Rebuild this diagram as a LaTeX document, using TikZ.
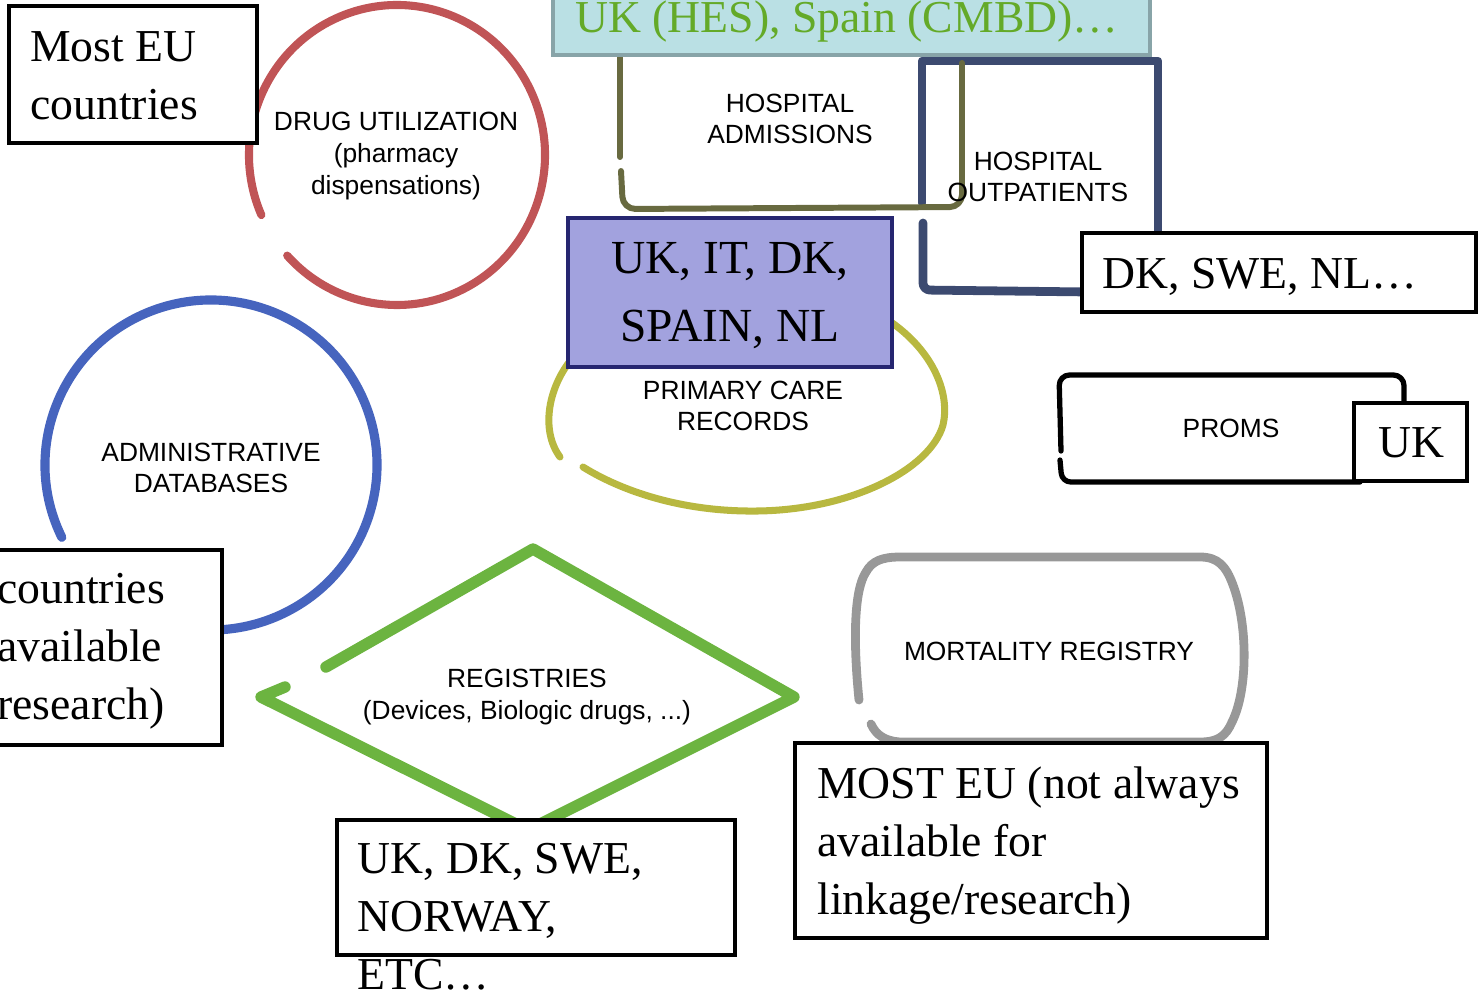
\documentclass[tikz,border=0pt]{standalone}
\usepackage{fontspec}
\setmainfont{Liberation Serif}
\setsansfont{Liberation Sans}
\usepackage{tikz}
\usetikzlibrary{calc}
\usepackage{xcolor}

\definecolor{drugred}{RGB}{192,84,86}
\definecolor{adminblue}{RGB}{70,100,190}
\definecolor{reggreen}{RGB}{108,180,64}
\definecolor{pcyellow}{RGB}{184,184,64}
\definecolor{hospolive}{RGB}{104,106,64}
\definecolor{outnavy}{RGB}{60,74,112}
\definecolor{mortgray}{RGB}{152,152,152}
\definecolor{hesfill}{RGB}{186,224,228}
\definecolor{hesdraw}{RGB}{136,164,168}
\definecolor{hestext}{RGB}{100,170,40}
\definecolor{pcfill}{RGB}{162,162,222}
\definecolor{pcdraw}{RGB}{38,38,112}

\begin{document}
\begin{tikzpicture}[x=0.02cm, y=-0.02cm,
    sketch/.style={line cap=round, line join=round},
    cbox/.style={draw=black, line width=2.8pt, fill=white},
    ctext/.style={font=\fontsize{26}{33}\selectfont, align=left, inner sep=0pt, anchor=north west},
    dtext/.style={font=\sffamily\fontsize{15}{18}\selectfont, align=center, inner sep=0pt}]
        \useasboundingbox (0,0) rectangle (1478,991);

        % Define Coordinates
        \coordinate (drugC) at (397,155);
        \coordinate (adminC) at (211,465);

        % Drug utilization (open red circle)
        \draw[sketch, drugred, line width=4.6pt] (drugC) ++(156.4:148 and 150)
            arc[start angle=156.4, end angle=497.9, x radius=148, y radius=150];
        \draw[cbox] (9,6) rectangle (257,143);

        % Administrative databases (open blue circle)
        \draw[sketch, adminblue, line width=5.2pt] (adminC) ++(154:166 and 165)
            arc[start angle=154, end angle=460, x radius=166, y radius=165];
        \draw[cbox] (-20,550) rectangle (222,745);

        % Registries (green diamond)
        \draw[sketch, reggreen, line width=6.5pt] (326,667) -- (533,549) -- (794,697)
            -- (528,830) -- (261,697) -- (285,687);
        \draw[cbox] (337,820) rectangle (735,955);

        % Primary care (yellow ellipse, hand drawn)
        \draw[sketch, pcyellow, line width=4pt] (560,457) .. controls (540,430) and (548,385) .. (575,355)
            .. controls (640,300) and (850,290) .. (895,325)
            .. controls (935,355) and (950,395) .. (943,425)
            .. controls (930,470) and (850,510) .. (757,511)
            .. controls (680,512) and (620,490) .. (583,467);
        \draw[pcdraw, line width=2.3pt, fill=pcfill] (568,218) rectangle (892,367);

        % Hospital outpatients (navy box)
        \draw[sketch, outnavy, line width=5pt] (922,203) -- (922,61) -- (1158,61) -- (1158,240);
        \draw[sketch, outnavy, line width=5pt, rounded corners=4pt] (923,223) -- (923,290) -- (1090,292);

        % Hospital admissions (olive box)
        \draw[sketch, hospolive, line width=3.4pt] (620,56) -- (620,157);
        \draw[sketch, hospolive, line width=3.4pt, rounded corners=7pt] (621,171) -- (623,209)
            -- (962,207) -- (962,63);

        % Boxes on top
        \draw[hesdraw, line width=2.3pt, fill=hesfill] (553,-20) rectangle (1150,55);
        \draw[cbox] (1082,233) rectangle (1476,312);

        % PROMS (black rounded box)
        \draw[sketch, line width=3pt, rounded corners=6pt] (1061,451) -- (1059,375)
            -- (1404,375) -- (1404,410);
        \draw[sketch, line width=3pt, rounded corners=5pt] (1060,460) -- (1062,482) -- (1360,482);
        \draw[cbox] (1354,403) rectangle (1467,481);

        % Mortality registry (gray rounded shape)
        \draw[sketch, mortgray, line width=5pt] (859,700) .. controls (853,640) and (854,590) .. (866,572)
            .. controls (872,561) and (882,557) .. (900,557) -- (1200,557)
            .. controls (1218,557) and (1226,566) .. (1233,585)
            .. controls (1248,625) and (1248,690) .. (1232,722)
            .. controls (1226,736) and (1218,742) .. (1200,742) -- (900,742)
            .. controls (885,741) and (876,735) .. (871,724);
        \draw[cbox] (795,743) rectangle (1267,938);

        % Category Labels
        \node[dtext] (drug) at (396,156) {DRUG UTILIZATION\\(pharmacy\\dispensations)};
        \node[dtext] (admis) at (790,119) {HOSPITAL\\ADMISSIONS};
        \node[dtext] (outpat) at (1038,177) {HOSPITAL\\OUTPATIENTS};
        \node[dtext] (pcare) at (743,406) {PRIMARY CARE\\RECORDS};
        \node[dtext] (proms) at (1231,428) {PROMS};
        \node[dtext] (admin) at (211,468) {ADMINISTRATIVE\\DATABASES};
        \node[dtext] (regs) at (527,697) {REGISTRIES\\(Devices, Biologic drugs, ...)};
        \node[dtext] (mort) at (1049,651) {MORTALITY REGISTRY};

        % Country Labels
        \node[ctext] (mostEU) at (30,31) {Most EU\\countries};
        \node[ctext] (adminCty) at (-3,573) {countries\\available\\research)};
        \node[ctext, text=hestext] (hes) at (575,0) {UK (HES), Spain (CMBD)…};
        \node[ctext, anchor=north, align=center, font=\fontsize{27}{38.6}\selectfont] (pcCty) at (730,242) {UK, IT, DK,\\SPAIN, NL};
        \node[ctext] (outCty) at (1102,258) {DK, SWE, NL…};
        \node[ctext, anchor=center] (promsCty) at (1411,443) {UK};
        \node[ctext] (regCty) at (357,843) {UK, DK, SWE,\\NORWAY,\\ETC…};
        \node[ctext] (mortCty) at (817,766) {MOST EU (not always\\available for\\linkage/research)};

    \end{tikzpicture}
\end{document}
